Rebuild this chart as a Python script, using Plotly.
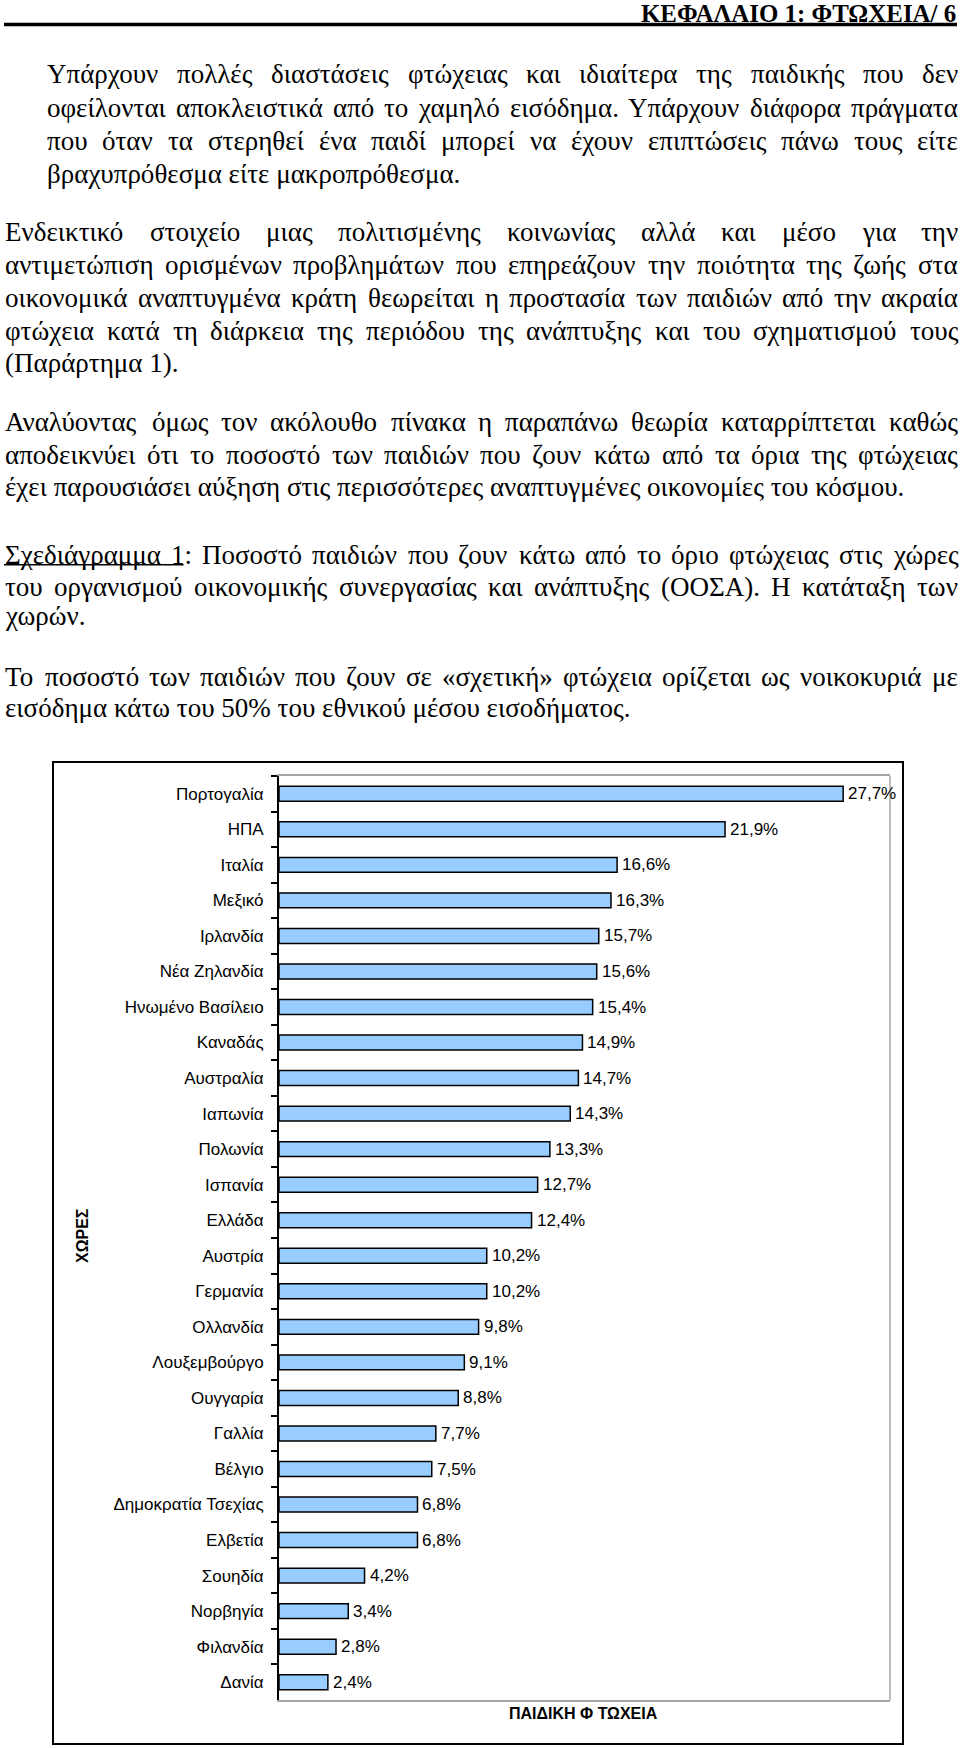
import glob
import struct
import plotly.graph_objects as go

# ---------------- data ----------------
countries = ["Πορτογαλία", "ΗΠΑ", "Ιταλία", "Μεξικό", "Ιρλανδία", "Νέα Ζηλανδία",
             "Ηνωμένο Βασίλειο", "Καναδάς", "Αυστραλία", "Ιαπωνία", "Πολωνία",
             "Ισπανία", "Ελλάδα", "Αυστρία", "Γερμανία", "Ολλανδία", "Λουξεμβούργο",
             "Ουγγαρία", "Γαλλία", "Βέλγιο", "Δημοκρατία Τσεχίας", "Ελβετία",
             "Σουηδία", "Νορβηγία", "Φιλανδία", "Δανία"]
values = [27.7, 21.9, 16.6, 16.3, 15.7, 15.6, 15.4, 14.9, 14.7, 14.3, 13.3, 12.7,
          12.4, 10.2, 10.2, 9.8, 9.1, 8.8, 7.7, 7.5, 6.8, 6.8, 4.2, 3.4, 2.8, 2.4]
value_labels = [f"{v:.1f}%".replace(".", ",") for v in values]
x_title = "ΠΑΙΔΙΚΗ Φ ΤΩΧΕΙΑ"
y_title = "ΧΩΡΕΣ"
header_text = "ΚΕΦΑΛΑΙΟ 1: ΦΤΩΧΕΙΑ/ 6"

para1 = ["Υπάρχουν πολλές διαστάσεις φτώχειας και ιδιαίτερα της παιδικής που δεν",
         "οφείλονται αποκλειστικά από το χαμηλό εισόδημα. Υπάρχουν διάφορα πράγματα",
         "που όταν τα στερηθεί ένα παιδί μπορεί να έχουν επιπτώσεις πάνω τους είτε",
         "βραχυπρόθεσμα είτε μακροπρόθεσμα."]
para2 = ["Ενδεικτικό στοιχείο μιας πολιτισμένης κοινωνίας αλλά και μέσο για την",
         "αντιμετώπιση ορισμένων προβλημάτων που επηρεάζουν την ποιότητα της ζωής στα",
         "οικονομικά αναπτυγμένα κράτη θεωρείται η προστασία των παιδιών από την ακραία",
         "φτώχεια κατά τη διάρκεια της περιόδου της ανάπτυξης και του σχηματισμού τους",
         "(Παράρτημα 1)."]
para3 = ["Αναλύοντας όμως τον ακόλουθο πίνακα η παραπάνω θεωρία καταρρίπτεται καθώς",
         "αποδεικνύει ότι το ποσοστό των παιδιών που ζουν κάτω από τα όρια της φτώχειας",
         "έχει παρουσιάσει αύξηση στις περισσότερες αναπτυγμένες οικονομίες του κόσμου."]
para4 = ["Σχεδιάγραμμα 1: Ποσοστό παιδιών που ζουν κάτω από το όριο φτώχειας στις χώρες",
         "του οργανισμού οικονομικής συνεργασίας και ανάπτυξης (ΟΟΣΑ). Η κατάταξη των",
         "χωρών."]
para5 = ["Το ποσοστό των παιδιών που ζουν σε «σχετική» φτώχεια ορίζεται ως νοικοκυριά με",
         "εισόδημα κάτω του 50% του εθνικού μέσου εισοδήματος."]

# ---------------- page geometry (pixels) ----------------
W, H = 960, 1748
PLOT_L, PLOT_R, PLOT_T, PLOT_B = 279, 890, 776, 1700
BOX_L, BOX_T, BOX_R, BOX_B = 53, 762, 903, 1744
TEXT_R = 957


def px(x):
    return x / W


def py(y):
    return 1 - y / H


# ---------------- font metrics (for justified text) ----------------
def parse_ttf(path):
    data = open(path, "rb").read()
    u16 = lambda o: struct.unpack(">H", data[o:o + 2])[0]
    i16 = lambda o: struct.unpack(">h", data[o:o + 2])[0]
    u32 = lambda o: struct.unpack(">I", data[o:o + 4])[0]
    ntab = u16(4)
    tables = {}
    for i in range(ntab):
        off = 12 + 16 * i
        tables[data[off:off + 4].decode("latin1")] = u32(off + 8)
    upem = u16(tables["head"] + 18)
    nhm = u16(tables["hhea"] + 34)
    hm = tables["hmtx"]
    adv = [u16(hm + 4 * i) for i in range(nhm)]
    cm = tables["cmap"]
    sub = None
    for i in range(u16(cm + 2)):
        pid, eid = u16(cm + 4 + 8 * i), u16(cm + 6 + 8 * i)
        so = u32(cm + 8 + 8 * i)
        if pid == 3 and eid == 1 and u16(cm + so) == 4:
            sub = cm + so
            break
    segx2 = u16(sub + 6)
    segc = segx2 // 2
    ends = sub + 14
    starts = ends + segx2 + 2
    deltas = starts + segx2
    ranges = deltas + segx2

    def glyph(c):
        for s in range(segc):
            if c <= u16(ends + 2 * s):
                st = u16(starts + 2 * s)
                if c < st:
                    return 0
                d = i16(deltas + 2 * s)
                ro = u16(ranges + 2 * s)
                if ro == 0:
                    return (c + d) & 0xFFFF
                g = u16(ranges + 2 * s + ro + 2 * (c - st))
                return (g + d) & 0xFFFF if g else 0
        return 0

    cache = {}

    def width(ch):
        if ch not in cache:
            g = glyph(ord(ch))
            cache[ch] = adv[min(g, nhm - 1)] / upem
        return cache[ch]
    return width


def load_font(name):
    pats = [f"/usr/share/fonts/**/{name}", f"/usr/local/share/fonts/**/{name}",
            f"/root/.fonts/**/{name}"]
    for p in pats:
        for path in glob.glob(p, recursive=True):
            try:
                return parse_ttf(path)
            except Exception:
                pass
    return lambda ch: 0.25 if ch == " " else 0.46


serif_w = load_font("LiberationSerif-Regular.ttf")
serif_bw = load_font("LiberationSerif-Bold.ttf")


def em_width(s, fw):
    return sum(fw(c) for c in s)


last_line = para3[2]
FS = (905 - 4) / em_width(last_line, serif_w)
FS = max(20.0, min(28.0, FS))
HFS = max(19.0, min(25.0, 318 / em_width(header_text, serif_bw)))

# ---------------- chart ----------------
fig = go.Figure()
fig.add_trace(go.Bar(
    y=countries, x=values, orientation="h", width=0.42,
    marker=dict(color="#99CCFF", line=dict(color="#000000", width=1.5)),
    hoverinfo="skip",
))

annotations = []
shapes = []

# value labels, anchored to the data coordinates of each bar end
for c, v, lab in zip(countries, values, value_labels):
    annotations.append(dict(x=v, y=c, xref="x", yref="y", text=lab, showarrow=False,
                            xanchor="left", yanchor="middle", xshift=4, borderpad=0,
                            font=dict(family="Liberation Sans, Arial", size=17, color="#000")))

# axis titles
annotations.append(dict(x=px(583), y=py(1713), xref="paper", yref="paper",
                        text=f"<b>{x_title}</b>", showarrow=False,
                        font=dict(family="Liberation Sans, Arial", size=16, color="#000"),
                        xanchor="center", yanchor="middle"))
annotations.append(dict(x=px(82), y=py(1236), xref="paper", yref="paper",
                        text=f"<b>{y_title}</b>", showarrow=False, textangle=-90,
                        font=dict(family="Liberation Sans, Arial", size=16, color="#000"),
                        xanchor="center", yanchor="middle"))

# header
annotations.append(dict(x=px(TEXT_R), y=py(13), xref="paper", yref="paper",
                        text=f"<b>{header_text}</b>", showarrow=False,
                        font=dict(family="Liberation Serif, Times New Roman", size=HFS, color="#000"),
                        xanchor="right", yanchor="middle", borderpad=0))
shapes.append(dict(type="line", xref="paper", yref="paper", x0=px(4), x1=px(TEXT_R),
                   y0=py(24.5), y1=py(24.5), line=dict(color="#000", width=3.5)))

# body paragraphs: (left, lines, y-centres)
body = [
    (46, para1, [74, 107.5, 141, 174]),
    (4, para2, [232, 265, 298, 331, 363]),
    (4, para3, [422, 455, 487]),
    (4, para4, [555, 587, 616]),
    (4, para5, [677, 708]),
]
tfont = dict(family="Liberation Serif, Times New Roman", size=FS, color="#000")
underline_span = None
for left, lines, ys in body:
    for i, (line, yc) in enumerate(zip(lines, ys)):
        justify = i < len(lines) - 1
        if not justify:
            annotations.append(dict(x=px(left), y=py(yc), xref="paper", yref="paper",
                                    text=line, showarrow=False, font=tfont,
                                    xanchor="left", yanchor="middle", borderpad=0))
            continue
        words = line.split(" ")
        widths = [em_width(w, serif_w) * FS for w in words]
        gap = (TEXT_R - left - sum(widths)) / (len(words) - 1)
        x = left
        for w, wd in zip(words, widths):
            annotations.append(dict(x=px(x), y=py(yc), xref="paper", yref="paper",
                                    text=w, showarrow=False, font=tfont,
                                    xanchor="left", yanchor="middle", borderpad=0))
            if line is para4[0] and w == "1:":
                underline_span = (left, x + em_width("1", serif_w) * FS, yc)
            x += wd + gap

if underline_span:
    ul0, ul1, uy = underline_span
    shapes.append(dict(type="line", xref="paper", yref="paper", x0=px(ul0), x1=px(ul1),
                       y0=py(uy + 0.36 * FS), y1=py(uy + 0.36 * FS),
                       line=dict(color="#000", width=1.3)))

# chart outer frame
shapes.append(dict(type="rect", xref="paper", yref="paper",
                   x0=px(BOX_L), x1=px(BOX_R), y0=py(BOX_B), y1=py(BOX_T),
                   line=dict(color="#000", width=2), fillcolor="rgba(0,0,0,0)"))
# right border of plot area (grey)
shapes.append(dict(type="line", xref="paper", yref="paper",
                   x0=px(PLOT_R), x1=px(PLOT_R), y0=py(PLOT_B), y1=py(PLOT_T),
                   line=dict(color="#A6A6A6", width=1.5)))

fig.update_layout(
    width=W, height=H,
    margin=dict(l=0, r=0, t=0, b=0),
    paper_bgcolor="#FFFFFF", plot_bgcolor="#FFFFFF",
    showlegend=False,
    annotations=annotations, shapes=shapes,
    xaxis=dict(domain=[px(PLOT_L), px(PLOT_R)], range=[0, 30],
               showticklabels=False, showgrid=False, zeroline=False, ticks="",
               showline=True, linecolor="#A6A6A6", linewidth=1.5, mirror=True,
               fixedrange=True),
    yaxis=dict(domain=[py(PLOT_B), py(PLOT_T)], type="category",
               categoryorder="array", categoryarray=countries,
               range=[len(countries) - 0.5, -0.5],
               showgrid=False, zeroline=False,
               showline=True, linecolor="#000000", linewidth=2,
               ticks="outside", tickson="boundaries", ticklen=6, tickwidth=1.5,
               tickcolor="#000000", ticklabelstandoff=10,
               tickfont=dict(family="Liberation Sans, Arial", size=17, color="#000"),
               fixedrange=True),
)

fig.write_html("out.html")
